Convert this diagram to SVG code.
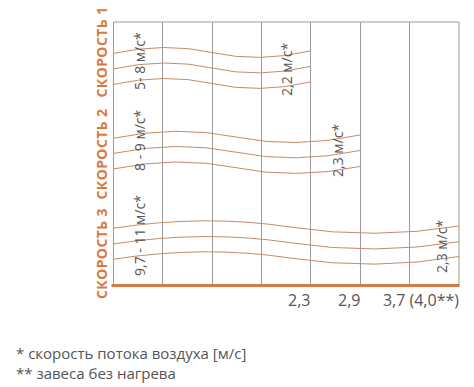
<svg xmlns="http://www.w3.org/2000/svg" width="474" height="387" viewBox="0 0 474 387">
<style>
.grid{stroke:#9a9a9a;stroke-width:1;fill:none}
.wave{stroke:#c98a66;stroke-width:1;fill:none}
.lab{font-family:"Open Sans","Liberation Sans",sans-serif;font-weight:bold;font-size:14px;fill:#d87b43;letter-spacing:0.4px}
.spd{font-family:"Open Sans","Liberation Sans",sans-serif;font-size:14px;fill:#555}
.axis{font-family:"Open Sans","Liberation Sans",sans-serif;font-size:16px;fill:#555}
.note{font-family:"Open Sans","Liberation Sans",sans-serif;font-size:15px;fill:#555}
</style>
<rect width="474" height="387" fill="#fff"/>
<g id="grid">
<path class="grid" d="M113.5,22 H459 M113.5,22 V285 M162.5,22 V285 M212.5,22 V285 M261.5,22 V285 M310.5,22 V285 M360.5,22 V285 M409.5,22 V285 M459,22 V285"/>
<line x1="111.5" y1="285.5" x2="459.5" y2="285.5" stroke="#d47a45" stroke-width="3"/>
</g>
<g id="connectors">
<g id="speed1-lines">
<path class="wave" d="M113,53.5 Q165,42 212,52.5 T310,51"/>
<path class="wave" d="M113,69 Q165,57.5 212,68 T310,66.5"/>
<path class="wave" d="M113,84.5 Q165,73 212,83.5 T310,82"/>
</g>
<g id="speed2-lines">
<path class="wave" d="M113,138.3 Q177,125 236,137 T360,135"/>
<path class="wave" d="M113,153.5 Q177,140.2 236,152.2 T360,150.5"/>
<path class="wave" d="M113,169 Q177,155.7 236,167.7 T360,166.5"/>
</g>
<g id="speed3-lines">
<path class="wave" d="M113,228.3 Q205,214 290,227 T459,226"/>
<path class="wave" d="M113,244 Q205,229.7 290,242.7 T459,241.7"/>
<path class="wave" d="M113,259.3 Q205,245 290,258 T459,256.5"/>
</g>
</g>
<g id="speed1">
<text class="lab" transform="translate(107,52) rotate(-90)" text-anchor="middle">СКОРОСТЬ 1</text>
<text class="spd" transform="translate(145,90) rotate(-90)">5- 8 м/с*</text>
<text class="spd" transform="translate(292,96) rotate(-90)">2,2 м/с*</text>
</g>
<g id="speed2">
<text class="lab" transform="translate(107,154) rotate(-90)" text-anchor="middle">СКОРОСТЬ 2</text>
<text class="spd" transform="translate(145,171) rotate(-90)">8 - 9 м/с*</text>
<text class="spd" transform="translate(343,177) rotate(-90)">2,3 м/с*</text>
</g>
<g id="speed3">
<text class="lab" transform="translate(107,253.5) rotate(-90)" text-anchor="middle">СКОРОСТЬ 3</text>
<text class="spd" transform="translate(145,276) rotate(-90)">9,7 - 11 м/с*</text>
<text class="spd" transform="translate(447,273) rotate(-90)">2,3 м/с*</text>
</g>
<g id="axis-labels">
<text class="axis" x="310.5" y="306" text-anchor="end">2,3</text>
<text class="axis" x="360.5" y="306" text-anchor="end">2,9</text>
<text class="axis" x="459" y="306" text-anchor="end">3,7 (4,0**)</text>
</g>
<g id="notes">
<text class="note" x="16" y="359">* скорость потока воздуха [м/с]</text>
<text class="note" x="16" y="379">** завеса без нагрева</text>
</g>
</svg>
